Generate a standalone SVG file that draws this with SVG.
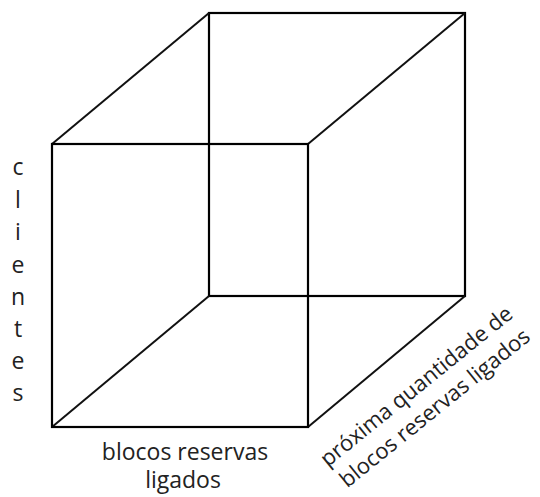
<svg xmlns="http://www.w3.org/2000/svg" width="540" height="497" viewBox="0 0 540 497">
  <style>
    .edge { stroke: #000; stroke-width: 2.2; fill: none; stroke-linecap: square; }
    .diag { stroke: #111; stroke-width: 2; fill: none; }
    .lbl { font-family: "Open Sans", "Noto Sans", "Liberation Sans", sans-serif; font-size: 23px; fill: #222; }
    .rot { font-size: 22px; }
  </style>
  <rect width="540" height="497" fill="#fff"/>
  <g id="cube">
    <g id="back-face">
      <rect class="edge" x="209" y="13" width="256" height="283"/>
    </g>
    <g id="connectors">
      <line class="diag" x1="52" y1="144" x2="209" y2="13"/>
      <line class="diag" x1="308" y1="144" x2="465" y2="13"/>
      <line class="diag" x1="52" y1="427" x2="209" y2="296"/>
      <line class="diag" x1="308" y1="427" x2="465" y2="296"/>
    </g>
    <g id="front-face">
      <rect class="edge" x="52" y="144" width="256" height="283"/>
    </g>
  </g>
  <g id="label-clientes" class="lbl" text-anchor="middle">
    <text x="18" y="175">c</text>
    <text x="18" y="208">l</text>
    <text x="18" y="240">i</text>
    <text x="18" y="273">e</text>
    <text x="18" y="305">n</text>
    <text x="18" y="337">t</text>
    <text x="18" y="369">e</text>
    <text x="18" y="401">s</text>
  </g>
  <g id="label-blocos" class="lbl" text-anchor="middle">
    <text><tspan x="185" y="460">blocos reservas</tspan><tspan x="183" y="488">ligados</tspan></text>
  </g>
  <g id="label-proxima" class="lbl rot" text-anchor="middle">
    <text transform="translate(421 392) rotate(-39)"><tspan x="0" y="0">próxima quantidade de</tspan><tspan x="0.6" y="28.6">blocos reservas ligados</tspan></text>
  </g>
</svg>
